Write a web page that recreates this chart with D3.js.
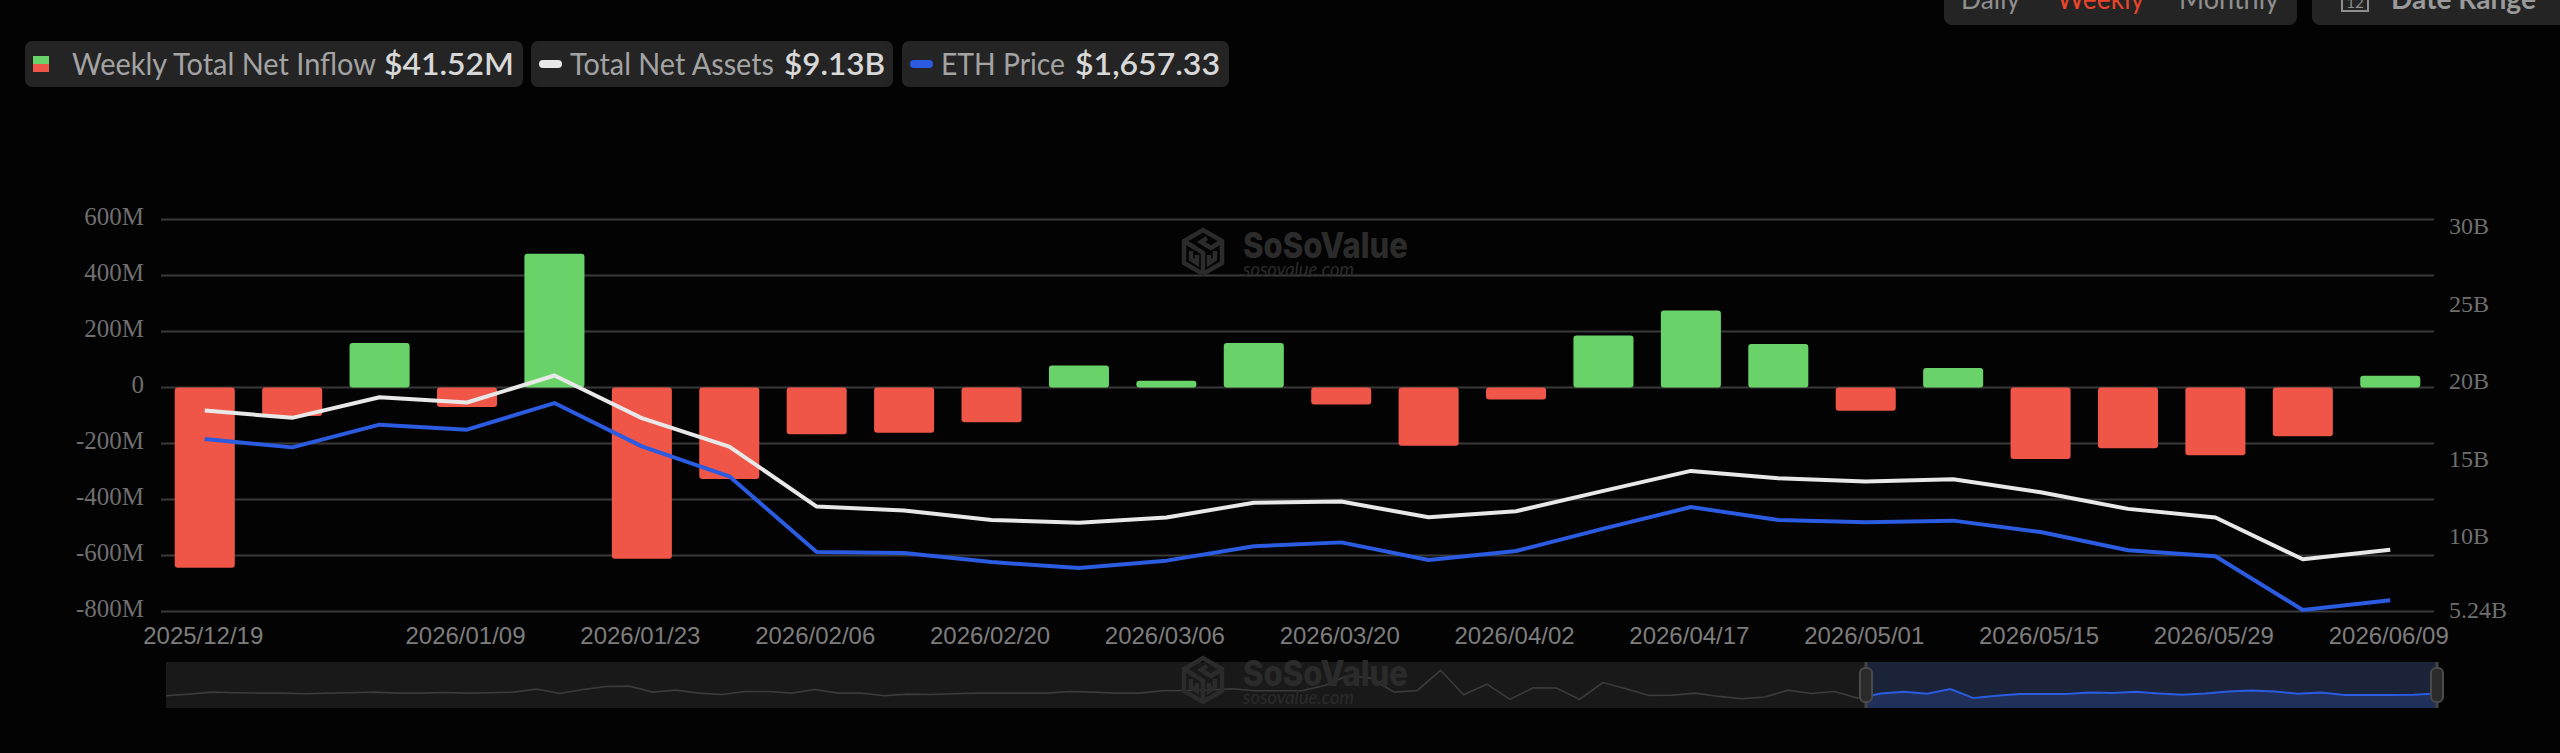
<!DOCTYPE html>
<html>
<head>
<meta charset="utf-8">
<style>
  html, body { margin: 0; padding: 0; background: #030303; overflow: hidden; }
  svg { display: block; }
  .lato { font-family: Lato, "Open Sans", sans-serif; }
</style>
<script src="https://cdn.jsdelivr.net/npm/d3@7/dist/d3.min.js"></script>
</head>
<body>
<svg id="chart" width="2560" height="753"></svg>
<script>
// Weekly categories, one per bar
const weeks = ["2025/12/19","2025/12/26","2026/01/02","2026/01/09","2026/01/16","2026/01/23","2026/01/30",
  "2026/02/06","2026/02/13","2026/02/20","2026/02/27","2026/03/06","2026/03/13","2026/03/20","2026/03/27",
  "2026/04/02","2026/04/10","2026/04/17","2026/04/24","2026/05/01","2026/05/08","2026/05/15","2026/05/22",
  "2026/05/29","2026/06/05","2026/06/09"];
const weekLabels = ["2025/12/19","2026/01/09","2026/01/23","2026/02/06","2026/02/20","2026/03/06","2026/03/20",
  "2026/04/02","2026/04/17","2026/05/01","2026/05/15","2026/05/29","2026/06/09"];

// Weekly total net inflow, $M
const netInflow = [-644,-102,159,-70,478,-612,-327,-167,-162,-124,79,24,159,-61,-208,-43,186,275,155,-83,70,-255,-217,-242,-174,41.52];
// Total net assets, $B
const netAssets = [18.10,17.63,18.96,18.62,20.36,17.61,15.78,11.91,11.65,11.05,10.87,11.20,12.16,12.23,11.22,11.61,12.92,14.21,13.73,13.52,13.67,12.83,11.76,11.20,8.51,9.13];
// ETH price, $
const ethPrice = [3000,2931,3120,3078,3300,2939,2690,2060,2052,1976,1926,1988,2107,2140,1993,2068,2254,2434,2326,2307,2321,2226,2074,2024,1577,1657.33];

// Axis ticks
const leftTicks = [-800,-600,-400,-200,0,200,400,600];
const rightTicks = [5.24,10,15,20,25,30];

// Range slider overview trace
const overview = [37,42,48,46,45,45,43,45,46,48,45,45,47,45,46,48,57,44,56,65,66,48,54,45,41,50,50,45,56,45,45,37,42,41,
  43,45,45,45,45,50,48,45,45,52,53,54,58,52,52,52,68,98,90,48,53,114,40,72,26,61,60,26,77,58,38,39,45,
  35,28,33,54,44,50,30,44,49,43,57,30,37,42,42,42,47,45,49,44,40,44,50,53,50,43,47,39,39,39,40,44];

// Legend chips
const legendItems = [
  {label:"Weekly Total Net Inflow", value:"$41.52M", chip:[25,523], labelX:72, valueX:384, labelW:304, valueW:130},
  {label:"Total Net Assets", value:"$9.13B", chip:[531,893], labelX:570, valueX:784, labelW:204, valueW:101},
  {label:"ETH Price", value:"$1,657.33", chip:[902,1229], labelX:941, valueX:1075, labelW:124, valueW:145}
];
const periods = [["Daily",1961,59,"#8f8f8f"],["Weekly",2057,87,"#e8452c"],["Monthly",2179,100,"#8f8f8f"]];

const GREEN = "#69d268", RED = "#ef5648", WHITE = "#e8e8e8", BLUE = "#2b5be0";
const GRID = "#3a3a3a", AXIS_TEXT = "#6f6f6f";

const svg = d3.select("#chart");

// Scales
const x = d3.scaleBand().domain(weeks).range([161, 2434]).paddingInner(0.313).paddingOuter(0.157);
const yFlow = d3.scaleLinear().domain([-800, 600]).range([611.5, 219.5]);
const yAssets = d3.scaleLinear().domain([5.24, 30]).range([610, 226]);
const yPrice = d3.scaleLinear().domain([1577, 4774]).range([610, 226]);
const cx = w => x(w) + x.bandwidth() / 2;

// Horizontal grid
svg.append("g").selectAll("line").data(leftTicks).join("line")
  .attr("x1", 161).attr("x2", 2434)
  .attr("y1", d => yFlow(d)).attr("y2", d => yFlow(d))
  .attr("stroke", GRID).attr("stroke-width", 2);

// Brand mark, used in both the main panel and the slider
function brand(parent, dx, dy) {
  const g = parent.append("g").attr("transform", `translate(${dx},${dy})`).attr("fill", "none");
  const ink = "#2b2b2b";
  g.append("g").attr("transform", "translate(1181,227)")
    .attr("stroke", ink).attr("stroke-width", 4.5).attr("stroke-linejoin", "miter")
    .selectAll("path")
    .data(["M22,3 L41,14 L41,36 L22,47 L3,36 L3,14 Z",
           "M3,14 L16,22 M41,14 L30,21 L20,15 L26,11",
           "M10,24 L10,32 L16,36 L16,28 M22,47 L22,26 L16,22",
           "M34,24 L34,32 L28,36 L28,28"])
    .join("path").attr("d", d => d);
  g.append("text").attr("x", 1243).attr("y", 258)
    .attr("textLength", 165).attr("lengthAdjust", "spacingAndGlyphs")
    .attr("font-family", "Inter, Lato, sans-serif").attr("font-weight", 800)
    .attr("font-size", 36).attr("fill", ink).text("SoSoValue");
  g.append("text").attr("x", 1243).attr("y", 276)
    .attr("textLength", 111).attr("lengthAdjust", "spacingAndGlyphs")
    .attr("font-family", "Lato, sans-serif").attr("font-style", "italic")
    .attr("font-size", 20).attr("fill", ink).text("sosovalue.com");
}
brand(svg, 0, 0);

// Net inflow bars
svg.append("g").selectAll("rect").data(weeks).join("rect")
  .attr("x", d => x(d))
  .attr("width", x.bandwidth())
  .attr("y", (d, i) => Math.min(yFlow(0), yFlow(netInflow[i])))
  .attr("height", (d, i) => Math.abs(yFlow(netInflow[i]) - yFlow(0)))
  .attr("rx", 3).attr("ry", 3)
  .attr("fill", (d, i) => netInflow[i] >= 0 ? GREEN : RED);

// Assets and price lines
const series = [[netAssets, yAssets, WHITE], [ethPrice, yPrice, BLUE]];
series.forEach(([vals, scale, color]) => {
  const line = d3.line().x((d, i) => cx(weeks[i])).y(d => scale(d));
  svg.append("path").datum(vals).attr("d", line)
    .attr("fill", "none").attr("stroke", color).attr("stroke-width", 4).attr("stroke-linejoin", "round");
});

// Axes
function styleAxis(g) {
  g.select(".domain").remove();
  g.selectAll(".tick line").remove();
}
svg.append("g").attr("transform", "translate(150,-3)")
  .call(d3.axisLeft(yFlow).tickValues(leftTicks).tickSize(0).tickPadding(6)
    .tickFormat(d => d === 0 ? "0" : `${d}M`))
  .call(styleAxis)
  .call(g => g.selectAll("text").attr("font-family", "'Liberation Serif', serif").attr("font-size", 25).attr("fill", AXIS_TEXT));

svg.append("g").attr("transform", "translate(2449,0)")
  .call(d3.axisRight(yAssets).tickValues(rightTicks).tickSize(0).tickPadding(0)
    .tickFormat(d => `${d}B`))
  .call(styleAxis)
  .call(g => g.selectAll("text").attr("font-family", "'Liberation Serif', serif").attr("font-size", 24).attr("fill", AXIS_TEXT));

svg.append("g").attr("transform", "translate(-1.5,628)")
  .call(d3.axisBottom(x).tickValues(weekLabels).tickSize(0).tickPadding(0))
  .call(styleAxis)
  .call(g => g.selectAll("text").attr("font-family", "'Liberation Sans', sans-serif").attr("font-size", 24).attr("fill", "#7d7d7d").attr("y", 0).attr("dy", "0.71em").attr("transform", "translate(0,-1)"));

// Range slider
const sliderTop = 662, sliderBottom = 708, selStart = 1866, selEnd = 2437;
const sx = d3.scaleLinear().domain([0, overview.length - 1]).range([166, 2437]);
const sy = d3.scaleLinear().domain([0, 139]).range([sliderBottom, sliderTop]);
const sLine = d3.line().x((d, i) => sx(i)).y(d => sy(d));
const sArea = d3.area().x((d, i) => sx(i)).y0(sliderBottom).y1(d => sy(d));

svg.append("rect").attr("x", 166).attr("y", sliderTop).attr("width", 2271).attr("height", sliderBottom - sliderTop).attr("fill", "#191919");
svg.append("defs").append("clipPath").attr("id", "sel").append("rect")
  .attr("x", selStart).attr("y", sliderTop).attr("width", selEnd - selStart).attr("height", sliderBottom - sliderTop);
svg.append("path").datum(overview).attr("d", sLine).attr("fill", "none").attr("stroke", "#3b3b3b").attr("stroke-width", 1.6);

const sel = svg.append("g").attr("clip-path", "url(#sel)");
sel.append("rect").attr("x", selStart).attr("y", sliderTop).attr("width", selEnd - selStart).attr("height", sliderBottom - sliderTop).attr("fill", "#1b2338");
sel.append("path").datum(overview).attr("d", sArea).attr("fill", "#203059");
sel.append("path").datum(overview).attr("d", sLine).attr("fill", "none").attr("stroke", "#2b5be0").attr("stroke-width", 2);

brand(svg, 0, 428);

[selStart, selEnd].forEach(hx => {
  svg.append("line").attr("x1", hx).attr("x2", hx).attr("y1", sliderTop).attr("y2", sliderBottom).attr("stroke", "#444").attr("stroke-width", 3);
  svg.append("rect").attr("x", hx - 6).attr("y", 668).attr("width", 12).attr("height", 34).attr("rx", 5)
    .attr("fill", "#2a2a2a").attr("stroke", "#4a4a4a").attr("stroke-width", 2);
});

// Legend chips
const legend = svg.append("g").attr("class", "lato");
legend.selectAll("rect.chip").data(legendItems).join("rect").attr("class", "chip")
  .attr("x", d => d.chip[0]).attr("y", 41).attr("width", d => d.chip[1] - d.chip[0]).attr("height", 46)
  .attr("rx", 7).attr("fill", "#242424");
legend.selectAll("text.lbl").data(legendItems).join("text").attr("class", "lbl")
  .attr("x", d => d.labelX).attr("y", 75).attr("textLength", d => d.labelW).attr("lengthAdjust", "spacingAndGlyphs")
  .attr("font-size", 30).attr("fill", "#a3a3a3").text(d => d.label);
legend.selectAll("text.val").data(legendItems).join("text").attr("class", "val")
  .attr("x", d => d.valueX).attr("y", 75).attr("textLength", d => d.valueW).attr("lengthAdjust", "spacingAndGlyphs")
  .attr("font-size", 30).attr("font-weight", 600).attr("fill", "#d8d8d8").text(d => d.value);
legend.append("rect").attr("x", 33).attr("y", 56).attr("width", 16).attr("height", 8).attr("fill", GREEN);
legend.append("rect").attr("x", 33).attr("y", 64).attr("width", 16).attr("height", 8).attr("fill", RED);
legend.append("rect").attr("x", 539).attr("y", 60).attr("width", 23).attr("height", 8).attr("rx", 4).attr("fill", WHITE);
legend.append("rect").attr("x", 910).attr("y", 60).attr("width", 23).attr("height", 8).attr("rx", 4).attr("fill", BLUE);

// Period switch and date range, running off the top edge
const controls = svg.append("g").attr("class", "lato");
controls.append("rect").attr("x", 1944).attr("y", -30).attr("width", 353).attr("height", 55).attr("rx", 8).attr("fill", "#242424");
controls.append("rect").attr("x", 2312).attr("y", -30).attr("width", 280).attr("height", 55).attr("rx", 8).attr("fill", "#242424");
controls.selectAll("text.period").data(periods).join("text").attr("class", "period")
  .attr("x", d => d[1]).attr("y", 9).attr("textLength", d => d[2]).attr("lengthAdjust", "spacingAndGlyphs")
  .attr("font-size", 28).attr("fill", d => d[3]).text(d => d[0]);
controls.append("text").attr("x", 2391).attr("y", 9).attr("textLength", 145).attr("lengthAdjust", "spacingAndGlyphs")
  .attr("font-size", 28).attr("font-weight", 700).attr("fill", "#9a9a9a").text("Date Range");
controls.append("rect").attr("x", 2342).attr("y", -10).attr("width", 26).attr("height", 21).attr("fill", "none").attr("stroke", "#8f8f8f").attr("stroke-width", 2);
controls.append("text").attr("x", 2355).attr("y", 8).attr("text-anchor", "middle").attr("font-size", 15).attr("fill", "#8f8f8f").text("12");
</script>
</body>
</html>
